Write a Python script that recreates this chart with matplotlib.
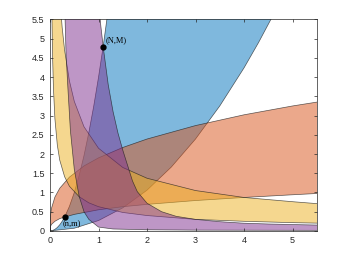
#Four shaded regions between pairs of curves, with the points (n,m) and (N,M)

import numpy as np
import matplotlib
matplotlib.use('Agg')
import matplotlib.pyplot as plt

#blue region: steep upper curve and flat lower curve
blue_up_x = [0, 0.05, 0.1, 0.15, 0.2, 0.25, 0.3, 0.4, 0.5, 0.6, 0.7, 0.8, 0.9, 1.0, 1.1, 1.2]
blue_up_y = [0, 0.01, 0.04, 0.09, 0.16, 0.25, 0.36, 0.64, 1.0, 1.44, 1.96, 2.56, 3.24, 4.0, 4.84, 5.76]
blue_lo_x = [0, 0.5, 1.0, 1.5, 2.0, 2.5, 3.0, 3.5, 4.0, 4.3, 4.6]
blue_lo_y = [0, 0.07, 0.27, 0.6, 1.06, 1.66, 2.39, 3.25, 4.24, 4.9, 5.61]

#orange region
orange_up_x = [0, 0.002, 0.01, 0.03, 0.1, 0.2, 0.4, 0.7, 1.0, 1.5, 2.0, 3.0, 4.0, 5.0, 5.6]
orange_up_y = [0, 0.24, 0.41, 0.59, 0.88, 1.11, 1.40, 1.69, 1.9, 2.17, 2.39, 2.74, 3.02, 3.25, 3.37]
orange_lo_x = [0, 0.01, 0.03, 0.1, 0.2, 0.3, 0.5, 1.0, 1.5, 2.0, 3.0, 4.0, 5.0, 5.6]
orange_lo_y = [0, 0.12, 0.17, 0.25, 0.32, 0.36, 0.43, 0.55, 0.63, 0.69, 0.79, 0.87, 0.94, 0.98]

#yellow region
yellow_lo_x = [0.035, 0.05, 0.07, 0.1, 0.15, 0.2, 0.3, 0.4, 0.6, 0.8, 1.0, 1.5, 2.0, 3.0, 4.0, 5.0, 5.6]
yellow_lo_y = [5.89, 4.64, 3.71, 2.92, 2.23, 1.84, 1.41, 1.16, 0.89, 0.73, 0.63, 0.48, 0.40, 0.30, 0.25, 0.215, 0.20]
yellow_up_x = [0.21, 0.25, 0.3, 0.4, 0.5, 0.7, 1.0, 1.5, 2.0, 3.0, 4.0, 5.0, 5.6]
yellow_up_y = [5.93, 5.29, 4.70, 3.90, 3.37, 2.71, 2.15, 1.65, 1.37, 1.05, 0.87, 0.76, 0.70]

#purple region
purple_lo_x = [0.3, 0.33, 0.37, 0.42, 0.5, 0.6, 0.7, 0.8, 1.0, 1.3, 2.0, 3.0, 5.6]
purple_lo_y = [5.96, 4.6, 3.67, 2.6, 1.6, 0.9, 0.5, 0.3, 0.1, 0.05, 0.03, 0.02, 0.015]
purple_up_x = [1.0, 1.05, 1.1, 1.2, 1.3, 1.4, 1.5, 1.6, 1.7, 1.8, 2.0, 2.3, 2.6, 3.0, 3.5, 4.0, 4.5, 5.0, 5.6]
purple_up_y = [5.9, 5.3, 4.75, 3.8, 3.1, 2.55, 2.1, 1.7, 1.3, 1.02, 0.72, 0.5, 0.38, 0.3, 0.24, 0.2, 0.18, 0.165, 0.15]

#marked points
pt_x = [0.3, 1.1]
pt_y = [0.365, 4.78]
pt_labels = ['(n,m)', '(N,M)']

colors = [(0, 0.447, 0.741), (0.85, 0.325, 0.098), (0.929, 0.694, 0.125), (0.494, 0.184, 0.556)]


def Region(ax, x1, y1, x2, y2, color):
    '''Fills the area between two traced curves'''
    px = list(x1) + list(x2)[::-1]
    py = list(y1) + list(y2)[::-1]
    ax.fill(px, py, facecolor=color, alpha=0.5, edgecolor='none')
    ax.fill(px, py, facecolor='none', edgecolor=(0.1, 0.1, 0.1), linewidth=0.5, alpha=0.7)


fig = plt.figure(figsize=(3.5, 2.63), dpi=100)
ax = fig.add_axes([0.143, 0.122, 0.762, 0.804])

Region(ax, blue_up_x, blue_up_y, blue_lo_x, blue_lo_y, colors[0])
Region(ax, orange_up_x, orange_up_y, orange_lo_x, orange_lo_y, colors[1])
Region(ax, yellow_lo_x, yellow_lo_y, yellow_up_x, yellow_up_y, colors[2])
Region(ax, purple_lo_x, purple_lo_y, purple_up_x, purple_up_y, colors[3])

ax.plot(pt_x, pt_y, 'o', color='k', markersize=3.5, zorder=5)
ax.text(pt_x[0] - 0.04, pt_y[0] - 0.2, pt_labels[0], fontsize=6, family='Liberation Serif',
        va='center', ha='left')
ax.text(pt_x[1] + 0.05, pt_y[1] + 0.17, pt_labels[1], fontsize=6, family='Liberation Serif',
        va='center', ha='left')

ax.set_xlim(0, 5.5)
ax.set_ylim(0, 5.5)
ax.set_xticks(np.arange(0, 6, 1))
ax.set_yticks(np.arange(0, 5.6, 0.5))
ax.set_yticklabels(['0', '0.5', '1', '1.5', '2', '2.5', '3', '3.5', '4', '4.5', '5', '5.5'])
ax.tick_params(direction='in', length=2.5, width=0.5, labelsize=6.5, colors=(0.15, 0.15, 0.15),
               top=True, right=True, pad=4)
for lab in ax.get_xticklabels() + ax.get_yticklabels():
    lab.set_family('Liberation Sans')
for s in ax.spines.values():
    s.set_linewidth(0.5)
    s.set_color((0.15, 0.15, 0.15))

fig.savefig('out.png', dpi=100)
